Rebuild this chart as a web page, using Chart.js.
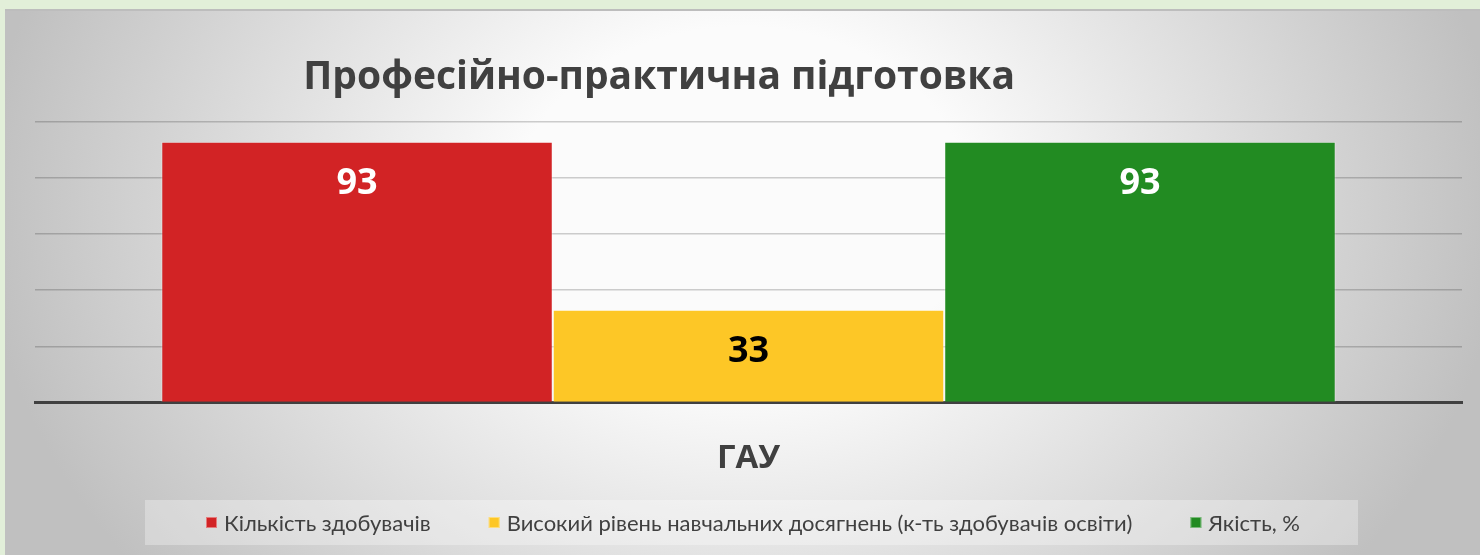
<!DOCTYPE html>
<html>
<head>
<meta charset="utf-8">
<script src="https://cdn.jsdelivr.net/npm/chart.js@4.4.1/dist/chart.umd.min.js"></script>
<style>
  html, body { margin: 0; padding: 0; }
  body { width: 1480px; height: 555px; background: #e2efd9; position: relative; overflow: hidden; }
  .frame {
    position: absolute; left: 5px; top: 9px; width: 1475px; height: 544px;
    border-top: 2px solid #bdbdbd;
    background: radial-gradient(ellipse 760px 600px at 50% 36%, #fbfbfb 30%, #c0c0c0 100%);
  }
  canvas { display: block; }
</style>
</head>
<body>
<div class="frame"><canvas id="chart" width="1475" height="544"></canvas></div>
<script>
// --- data ---
const TITLE = 'Професійно-практична підготовка';
const categories = ['ГАУ'];
const seriesNames = [
  'Кількість здобувачів',
  'Високий рівень навчальних досягнень (к-ть здобувачів освіти)',
  'Якість, %'
];
const seriesValues = [[93], [33], [93]];
const seriesColors = ['#d22325', '#fdc726', '#228b22'];
const labelColors = ['#ffffff', '#000000', '#ffffff'];
const yTicks = [0, 20, 40, 60, 80, 100];

const TEXT = '#404040';

// value labels inside the bar top
const valueLabels = {
  id: 'valueLabels',
  afterDatasetsDraw(chart) {
    const ctx = chart.ctx;
    ctx.save();
    ctx.font = 'bold 36px "Open Sans", sans-serif';
    ctx.textAlign = 'center';
    ctx.textBaseline = 'middle';
    chart.data.datasets.forEach((ds, i) => {
      chart.getDatasetMeta(i).data.forEach((bar, j) => {
        ctx.fillStyle = labelColors[i];
        ctx.fillText(String(ds.data[j]), bar.x, bar.y + 42);
      });
    });
    ctx.restore();
  }
};

// title sits left of centre in the original
const titlePlugin = {
  id: 'titlePlugin',
  afterDraw(chart) {
    const ctx = chart.ctx;
    ctx.save();
    ctx.font = 'bold 39px "Open Sans", sans-serif';
    ctx.fillStyle = TEXT;
    ctx.textAlign = 'center';
    ctx.textBaseline = 'middle';
    ctx.fillText(TITLE, chart.width * 0.4435, 67);
    ctx.restore();
  }
};

// legend in a pale box under the axis label
const boxLegend = {
  id: 'boxLegend',
  afterDraw(chart) {
    const ctx = chart.ctx;
    const top = 489, h = 45, left = 140, right = 1353;
    ctx.save();
    ctx.fillStyle = 'rgba(255,255,255,0.3)';
    ctx.fillRect(left, top, right - left, h);

    ctx.font = '22px Lato, "Open Sans", sans-serif';
    ctx.textBaseline = 'middle';
    const sq = 11, gapIn = 7, gapOut = 58;
    const widths = seriesNames.map(t => ctx.measureText(t).width);
    const total = widths.reduce((a, w) => a + sq + gapIn + w, 0) + gapOut * (seriesNames.length - 1);
    let x = Math.round((left + right) / 2 + 1 - total / 2);
    const cy = top + h / 2;
    seriesNames.forEach((name, i) => {
      ctx.fillStyle = seriesColors[i];
      ctx.fillRect(x, cy - sq / 2, sq, sq);
      ctx.strokeStyle = 'rgba(255,255,255,0.4)';
      ctx.lineWidth = 1;
      ctx.strokeRect(x + 0.5, cy - sq / 2 + 0.5, sq - 1, sq - 1);
      x += sq + gapIn;
      ctx.fillStyle = TEXT;
      ctx.fillText(name, x, cy + 1);
      x += widths[i] + gapOut;
    });
    ctx.restore();
  }
};

new Chart(document.getElementById('chart'), {
  type: 'bar',
  data: {
    labels: categories,
    datasets: seriesNames.map((name, i) => ({
      label: name,
      data: seriesValues[i],
      backgroundColor: seriesColors[i],
      borderColor: 'rgba(255,255,255,0.35)',
      borderWidth: 1,
      categoryPercentage: 0.823,
      barPercentage: 1
    }))
  },
  options: {
    responsive: false,
    animation: false,
    events: [],
    layout: { padding: { top: 111, left: 30, right: 18, bottom: 41 } },
    plugins: {
      legend: { display: false },
      title: { display: false },
      tooltip: { enabled: false }
    },
    scales: {
      x: {
        z: 1,
        grid: { display: false, drawTicks: false },
        border: { display: true, color: '#404040', width: 3 },
        ticks: {
          padding: 36,
          color: TEXT,
          font: { family: '"Open Sans", sans-serif', size: 33, weight: 'bold' }
        }
      },
      y: {
        z: 1,
        min: yTicks[0],
        max: yTicks[yTicks.length - 1],
        afterBuildTicks(scale) { scale.ticks = yTicks.map(v => ({ value: v })); },
        grid: { color: 'rgba(0,0,0,0.19)', lineWidth: 1.5, drawTicks: false },
        border: { display: false },
        ticks: { display: false }
      }
    }
  },
  plugins: [valueLabels, titlePlugin, boxLegend]
});
</script>
</body>
</html>
